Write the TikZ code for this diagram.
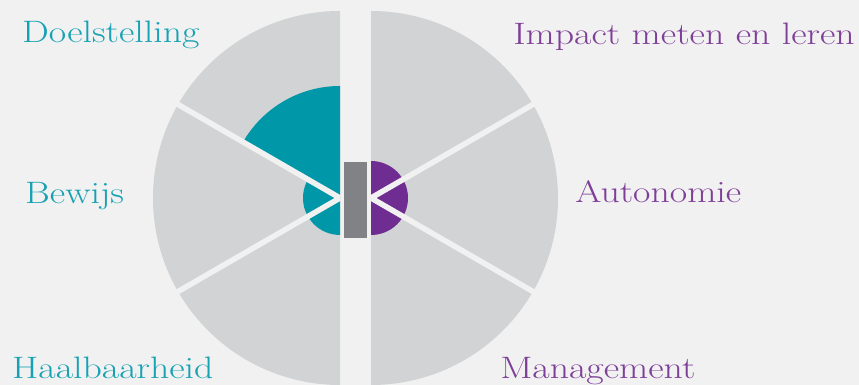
\documentclass[tikz,border=0pt]{standalone}
\usetikzlibrary{positioning}
\definecolor{bgc}{HTML}{F1F1F1}
\definecolor{segc}{HTML}{D1D3D4}
\definecolor{tealc}{HTML}{0098A9}
\definecolor{purpc}{HTML}{6F2C91}
\definecolor{barc}{HTML}{808285}
\definecolor{tealtxt}{HTML}{17A2B4}
\definecolor{purptxt}{HTML}{7E3F98}
\tikzset{
  lbl/.style={inner sep=0pt,font=\fontsize{31}{33}\selectfont,xscale=1.22,transform shape},
  lblt/.style={lbl,text=tealtxt},
  lblp/.style={lbl,text=purptxt},
  spoke/.style={draw=bgc,line width=5.5pt}
}
\begin{document}
\begin{tikzpicture}[x=1pt,y=1pt]
	\useasboundingbox[fill=bgc] (0,0) rectangle (859,385);
	\coordinate (L) at (340,187);
	\coordinate (R) at (371,187);
	% outer half discs
	\fill[segc] (L) -- ++(90:187) arc (90:270:187) -- cycle;
	\fill[segc] (R) -- ++(90:187) arc (90:-90:187) -- cycle;
	% inner parts
	\fill[tealc] (L) -- ++(90:112) arc (90:150:112) -- cycle;
	\fill[tealc] (L) -- ++(150:37) arc (150:270:37) -- cycle;
	\fill[purpc] (R) -- ++(90:37) arc (90:-90:37) -- cycle;
	% spokes
	\foreach \a in {150,210} \draw[spoke] (L) -- ++(\a:200);
	\foreach \a in {30,-30} \draw[spoke] (R) -- ++(\a:200);
	\fill[barc] (344,147) rectangle (367,223);
	% labels
	\node[lblt,anchor=base west] (doel) at (22,342) {Doelstelling};
	\node[lblp,anchor=base east] (impact) at (855,340) {Impact meten en leren};
	\node[lblt,anchor=base west] (bewijs) at (25,181) {Bewijs};
	\node[lblp,anchor=base west] (auto) at (575,182) {Autonomie};
	\node[lblt,anchor=base west] (haal) at (12,6) {Haalbaarheid};
	\node[lblp,anchor=base west] (mgmt) at (500,6) {Management};
\end{tikzpicture}
\end{document}
